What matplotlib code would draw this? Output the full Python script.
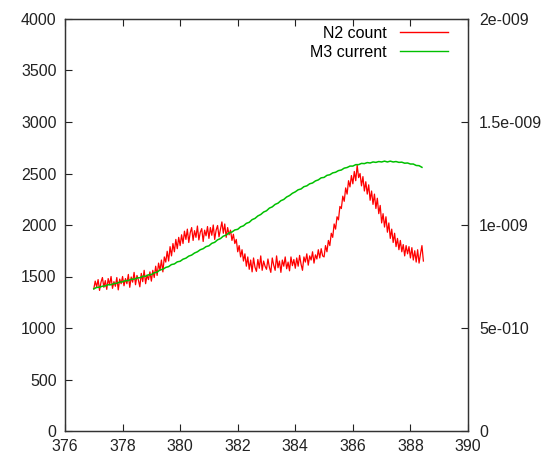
import numpy as np
import matplotlib
matplotlib.use("Agg")
import matplotlib.pyplot as plt
from matplotlib.ticker import FixedLocator, FixedFormatter

plt.rcParams['font.family'] = ['Liberation Sans', 'DejaVu Sans']

# ---- data ----
n2_x_start = 377.0
n2_x_step = 0.05
n2_count = [
    1380, 1455, 1400, 1470, 1365, 1445, 1490, 1395, 1460, 1375, 1480, 1420, 1500, 1385, 1450, 1405, 1490, 1370, 1475, 1430,
    1500, 1410, 1480, 1430, 1520, 1395, 1495, 1445, 1540, 1420, 1510, 1465, 1400, 1530, 1450, 1560, 1430, 1515, 1470, 1545,
    1455, 1560, 1490, 1600, 1510, 1630, 1560, 1660, 1545, 1690, 1640, 1745, 1650, 1790, 1700, 1820, 1740, 1860, 1770, 1880,
    1800, 1905, 1820, 1940, 1860, 1960, 1830, 1925, 1975, 1850, 1945, 1880, 1990, 1855, 1930, 1965, 1840, 1950, 1895, 1985,
    1870, 1975, 1900, 2000, 1860, 1950, 1995, 1885, 1960, 2030, 1920, 2010, 1880, 1975, 1905, 1950, 1850, 1910, 1820, 1860,
    1740, 1800, 1690, 1760, 1650, 1720, 1600, 1690, 1570, 1660, 1545, 1680, 1590, 1550, 1665, 1580, 1700, 1560, 1650, 1600,
    1570, 1670, 1590, 1540, 1680, 1610, 1560, 1700, 1585, 1650, 1540, 1660, 1600, 1690, 1575, 1640, 1555, 1690, 1605, 1665,
    1580, 1680, 1600, 1705, 1620, 1560, 1690, 1640, 1720, 1610, 1700, 1660, 1740, 1630, 1710, 1670, 1760, 1680, 1770, 1700,
    1690, 1800, 1740, 1850, 1800, 1920, 1880, 2010, 1960, 2080, 2050, 2180, 2160, 2280, 2230, 2360, 2300, 2430, 2370, 2480,
    2400, 2520, 2430, 2580, 2460, 2500, 2380, 2470, 2330, 2420, 2300, 2390, 2240, 2330, 2200, 2300, 2160, 2260, 2110, 2190,
    2020, 2110, 1980, 2080, 1930, 2020, 1870, 1960, 1830, 1920, 1790, 1870, 1760, 1850, 1740, 1810, 1700, 1800, 1720, 1790,
    1680, 1780, 1660, 1750, 1640, 1760, 1630, 1720, 1800, 1650,
]

m3_x_start = 377.0
m3_x_step = 0.1
# M3 current in units of 1e-10 (right axis)
m3_current_e10 = [
    6.90, 6.97, 6.98, 7.03, 7.04, 7.10, 7.10, 7.16, 7.17, 7.23,
    7.24, 7.30, 7.30, 7.37, 7.37, 7.43, 7.44, 7.51, 7.51, 7.58,
    7.59, 7.68, 7.71, 7.82, 7.85, 7.94, 7.98, 8.08, 8.11, 8.21,
    8.24, 8.34, 8.39, 8.49, 8.54, 8.64, 8.70, 8.80, 8.85, 8.95,
    8.99, 9.11, 9.16, 9.28, 9.34, 9.46, 9.51, 9.62, 9.66, 9.76,
    9.79, 9.91, 9.96, 10.08, 10.13, 10.26, 10.32, 10.44, 10.51, 10.63,
    10.69, 10.82, 10.88, 11.00, 11.06, 11.18, 11.24, 11.36, 11.43, 11.54,
    11.61, 11.71, 11.75, 11.86, 11.90, 12.00, 12.04, 12.14, 12.19, 12.29,
    12.31, 12.41, 12.44, 12.53, 12.56, 12.64, 12.67, 12.76, 12.79, 12.86,
    12.86, 12.93, 12.93, 12.99, 12.98, 13.03, 13.01, 13.06, 13.04, 13.08,
    13.06, 13.10, 13.06, 13.10, 13.06, 13.08, 13.04, 13.05, 13.00, 13.01,
    12.96, 12.96, 12.89, 12.88, 12.80,
]

x_ticks = [376, 378, 380, 382, 384, 386, 388, 390]
y_ticks = [0, 500, 1000, 1500, 2000, 2500, 3000, 3500, 4000]
y2_ticks = [0, 5e-10, 1e-9, 1.5e-9, 2e-9]
y2_labels = ["0", "5e-010", "1e-009", "1.5e-009", "2e-009"]

# ---- plot ----
n2_x = n2_x_start + n2_x_step * np.arange(len(n2_count))
m3_x = m3_x_start + m3_x_step * np.arange(len(m3_current_e10))
m3_current = np.array(m3_current_e10) * 1e-10

fig = plt.figure(figsize=(5.53, 4.59), dpi=100)
ax = fig.add_axes([65/553, 28/459, (468-65)/553, (431-19)/459])
ax2 = ax.twinx()

l1, = ax.plot(n2_x, n2_count, color='#ff0000', lw=0.9, label='N2 count')
l2, = ax2.plot(m3_x, m3_current, color='#00c000', lw=1.1, label='M3 current')

ax.set_xlim(376, 390)
ax.set_ylim(0, 4000)
ax2.set_ylim(0, 2e-9)
ax.set_xticks(x_ticks)
ax.set_yticks(y_ticks)
ax2.yaxis.set_major_locator(FixedLocator(y2_ticks))
ax2.yaxis.set_major_formatter(FixedFormatter(y2_labels))

fs = 11.5
ax.tick_params(axis='both', direction='in', length=5, width=0.8, labelsize=fs, colors='#222222', pad=6)
ax.tick_params(axis='x', top=True)
ax2.tick_params(axis='y', direction='in', length=5, width=0.8, labelsize=fs, colors='#222222', pad=8)
for a in (ax, ax2):
    for s in a.spines.values():
        s.set_linewidth(0.9)
        s.set_color('#333333')

leg = ax.legend([l1, l2], ['N2 count', 'M3 current'], loc='upper right', frameon=False,
                markerfirst=False, fontsize=fs, handlelength=3.0, handletextpad=0.8,
                labelspacing=0.25, bbox_to_anchor=(0.985, 1.018))
for h in leg.get_lines():
    h.set_linewidth(1.0)

fig.savefig('out.png', dpi=100)
